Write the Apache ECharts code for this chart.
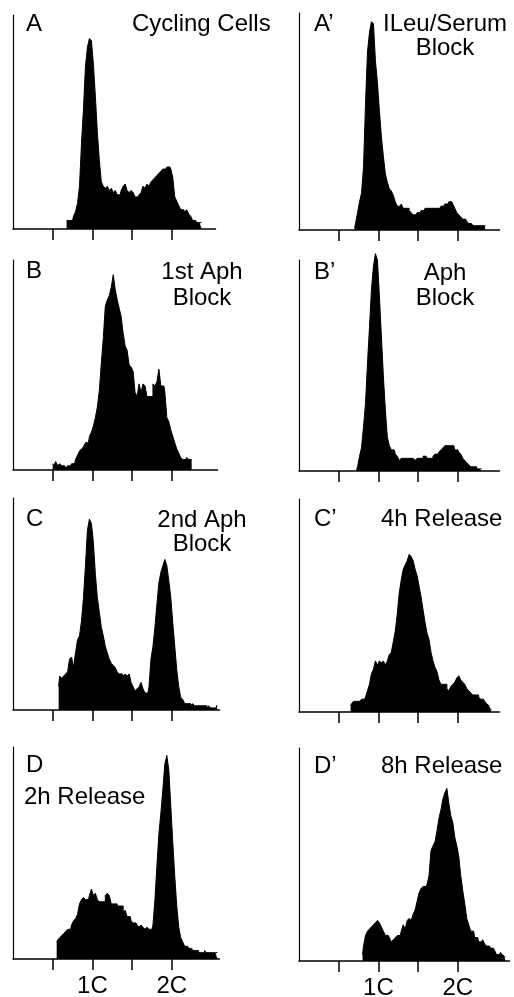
<!DOCTYPE html>
<html>
<head>
<meta charset="utf-8">
<script src="https://cdn.jsdelivr.net/npm/echarts@6/dist/echarts.min.js"></script>
<style>
html, body { margin: 0; padding: 0; background: #fff; }
#main { width: 514px; height: 997px; }
</style>
</head>
<body>
<div id="main"></div>
<script>
// DNA content histograms, x in arbitrary channel units (1C at 2, 2C at 4), y in % of panel height
var binWidth = 0.05;
var tickValues = [1, 2, 3, 4];
var tickLabels = { 2: '1C', 4: '2C' };

var startA = 1.35;
var countsA = [4,4,4,4,6,8, 12,20,40,56,76,85,89,88, 77,62,45,32,22,20, 19,20,18,19,17,18,
  16,16,18,20,21,18, 17,18,17,15,15,16, 17,20,19,21,20,22, 23,24,25,26,27,28,
  28,29,29,28,24,15, 13,11,9,9,8,9, 7,6,4,4,3,3,3];

var startA2 = 1.40;
var countsA2 = [1,3,8,13,17,29, 58,82,91,96,95,78, 68,55,43,34,26,22, 19,18,16,13,11,11,
  12,10,10,10,9,8, 7,7,8,8,9,9, 10,10,10,10,10,10, 10,10,11,11,12,12,
  13,13,12,10,8,7, 6,5,5,4,3,3, 2,2,2,2,2,2,2];

var startB = 1.00;
var countsB = [3,2,4,2,3,2, 2,1,2,2,3,3, 5,7,9,10,11,13, 13,16,18,21,25,30,
  38,51,63,78,81,83, 87,93,86,81,77,73, 65,59,57,50,49,47, 37,35,41,37,41,40,
  35,35,35,41,40,42, 48,40,40,37,25,23, 19,16,13,10,8,6, 5,5,6,5,5];

var startB2 = 1.45;
var countsB2 = [0.5,2,7,11,21,32, 51,68,86,97,103,100, 83,64,45,29,16,12, 10,10,8,7,5,6,
  6,6,6,6,6,6, 5,6,6,6,7,7, 6,6,6,7,8,8, 9,10,11,12,12,12,
  12,12,10,10,9,8, 6,5,4,3,2,2, 2,1,1,1];

var startC = 1.15;
var countsC = [11,16,15,16,17,18, 24,25,20,27,33,35, 42,53,68,85,90,88, 79,64,53,46,39,35,
  30,27,24,22,21,20, 18,17,17,16,17,16, 17,13,11,9,10,11, 13,10,8,8,11,24,
  30,39,50,60,65,68, 71,68,61,53,41,30, 19,11,6,5,3,3, 3,2,3,2,2,2,
  2,2,2,1,2,1, 1,1,2];

var startC2 = 1.30;
var countsC2 = [3,4,5,5,5,5, 6,6,7,10,13,18, 20,24,22,24,23,24, 22,24,27,28,33,38,
  46,56,62,67,69,71, 74,73,71,67,64,59, 54,48,42,37,34,28, 24,21,19,15,13,13,
  13,11,10,12,13,14, 16,17,15,14,13,11, 10,9,8,8,8,7, 6,6,5,4,3,1];

var startD = 1.10;
var countsD = [8,9,10,11,12,13, 14,14,16,18,19,21, 26,28,29,28,28,30, 33,30,31,28,27,27,
  27,30,31,30,26,26, 26,25,25,25,22,23, 20,20,18,17,17,16, 15,16,15,14,15,14,
  14,16,28,44,59,69, 80,92,96,89,72,55, 39,25,15,10,8,6, 6,5,5,4,4,4,
  3,3,3,4,3,3, 3,3,3,3];

var startD2 = 1.60;
var countsD2 = [3,7,12,14,15,16, 17,18,19,18,16,14, 12,12,11,9,10,11, 12,12,14,17,15,19,
  20,19,22,24,28,32, 34,35,35,36,40,52, 54,56,61,67,71,76, 79,81,74,68,65,58,
  54,49,40,33,27,20, 17,14,14,11,11,9, 9,10,8,7,7,6, 6,5,3,3,4,3, 2];

var panelStarts = [startA, startA2, startB, startB2, startC, startC2, startD, startD2];
var panelCounts = [countsA, countsA2, countsB, countsB2, countsC, countsC2, countsD, countsD2];
var panelMax = [5.1, 5.05, 5.15, 5.05, 5.2, 5.05, 5.2, 5.3];

var font = '"Liberation Sans", Arial, Helvetica, sans-serif';
var unitPx = 39.7;
var colLeft = [13, 299];
var rowBox = [[15, 214], [13, 217], [260, 210], [260, 211], [498, 212], [499, 213], [747, 212], [748, 213]];

var grids = [], xAxes = [], yAxes = [], series = [];
for (var i = 0; i < 8; i++) {
    var bottomRow = i >= 6;
    grids.push({
        left: colLeft[i % 2],
        top: rowBox[i][0],
        width: panelMax[i] * unitPx,
        height: rowBox[i][1],
        outerBoundsMode: 'none',
        containLabel: false
    });
    xAxes.push({
        gridIndex: i,
        type: 'value',
        min: 0,
        max: panelMax[i],
        axisLine: { show: true, onZero: false, lineStyle: { color: '#000', width: 1.5 } },
        axisTick: {
            show: true, inside: false, length: 11, customValues: tickValues,
            lineStyle: { color: '#000', width: 1.5 }
        },
        axisLabel: {
            show: bottomRow,
            customValues: [2, 4],
            formatter: function (v) { return tickLabels[v] || ''; },
            color: '#000',
            fontSize: 24,
            fontFamily: font,
            margin: 15
        },
        splitLine: { show: false }
    });
    yAxes.push({
        gridIndex: i,
        type: 'value',
        min: 0,
        max: 100,
        axisLine: { show: true, lineStyle: { color: '#000', width: 1.2 } },
        axisTick: { show: false },
        axisLabel: { show: false },
        splitLine: { show: false }
    });
    var pts = panelCounts[i].map(function (v, k) {
        return [+(panelStarts[i] + k * binWidth).toFixed(2), v];
    });
    series.push({
        type: 'line',
        xAxisIndex: i,
        yAxisIndex: i,
        step: 'middle',
        symbol: 'none',
        clip: false,
        silent: true,
        animation: false,
        lineStyle: { color: '#000', width: 1 },
        areaStyle: { color: '#000', opacity: 1 },
        data: pts
    });
}

// panel letters and captions
var labels = [
    ['A', 26, 24, 'left'], ['Cycling Cells', 132, 24, 'left'],
    ['A’', 314, 24, 'left'], ['ILeu/Serum', 445, 24, 'center'], ['Block', 445, 48, 'center'],
    ['B', 26, 271, 'left'], ['1st Aph', 202, 272, 'center'], ['Block', 202, 298, 'center'],
    ['B’', 314, 272, 'left'], ['Aph', 445, 273, 'center'], ['Block', 445, 298, 'center'],
    ['C', 26, 519, 'left'], ['2nd Aph', 202, 520, 'center'], ['Block', 202, 544, 'center'],
    ['C’', 314, 519, 'left'], ['4h Release', 381, 519, 'left'],
    ['D', 26, 765, 'left'], ['2h Release', 24, 797, 'left'],
    ['D’', 314, 766, 'left'], ['8h Release', 381, 766, 'left']
];
var graphics = labels.map(function (l) {
    return {
        type: 'text',
        x: l[1],
        y: l[2],
        silent: true,
        style: {
            text: l[0],
            fill: '#000',
            font: '24px ' + font,
            align: l[3],
            verticalAlign: 'middle'
        }
    };
});

var chart = echarts.init(document.getElementById('main'), null, { renderer: 'canvas' });
chart.setOption({
    animation: false,
    backgroundColor: '#fff',
    grid: grids,
    xAxis: xAxes,
    yAxis: yAxes,
    series: series,
    graphic: graphics
});
</script>
</body>
</html>
